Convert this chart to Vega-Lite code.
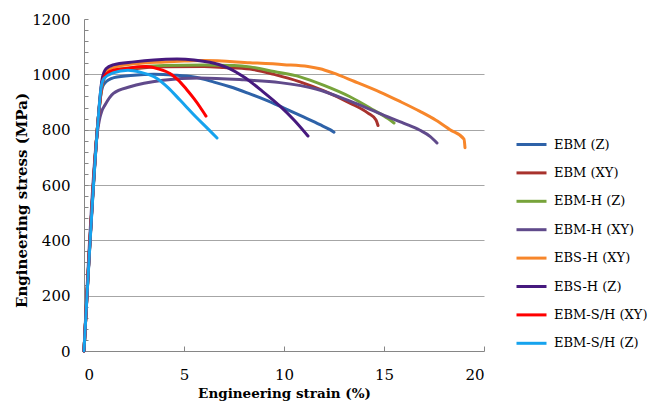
{
  "$schema": "https://vega.github.io/schema/vega-lite/v6.json",
  "autosize": "none",
  "width": 400,
  "height": 332,
  "padding": {"left": 84, "top": 19, "right": 167, "bottom": 55},
  "background": "white",
  "config": {"view": {"stroke": null}, "font": "DejaVu Serif"},
  "data": {"values": [
    {"s":"EBM (Z)","x":0,"y":0},{"s":"EBM (Z)","x":0.7,"y":830},{"s":"EBM (Z)","x":0.85,"y":930},{"s":"EBM (Z)","x":1.0,"y":965},{"s":"EBM (Z)","x":1.5,"y":988},{"s":"EBM (Z)","x":2.5,"y":997},{"s":"EBM (Z)","x":3.5,"y":1000},{"s":"EBM (Z)","x":4.5,"y":997},{"s":"EBM (Z)","x":5.5,"y":990},{"s":"EBM (Z)","x":6.5,"y":972},{"s":"EBM (Z)","x":7.3,"y":955},{"s":"EBM (Z)","x":8.2,"y":932},{"s":"EBM (Z)","x":9.1,"y":907},{"s":"EBM (Z)","x":10.0,"y":878},{"s":"EBM (Z)","x":11.0,"y":845},{"s":"EBM (Z)","x":11.8,"y":818},{"s":"EBM (Z)","x":12.3,"y":800},{"s":"EBM (Z)","x":12.5,"y":791},
    {"s":"EBM (XY)","x":0,"y":0},{"s":"EBM (XY)","x":0.7,"y":830},{"s":"EBM (XY)","x":0.9,"y":960},{"s":"EBM (XY)","x":1.1,"y":995},{"s":"EBM (XY)","x":1.5,"y":1010},{"s":"EBM (XY)","x":2.5,"y":1020},{"s":"EBM (XY)","x":4,"y":1027},{"s":"EBM (XY)","x":6,"y":1028},{"s":"EBM (XY)","x":7,"y":1025},{"s":"EBM (XY)","x":8.3,"y":1019},{"s":"EBM (XY)","x":9.5,"y":1000},{"s":"EBM (XY)","x":10.8,"y":973},{"s":"EBM (XY)","x":12,"y":940},{"s":"EBM (XY)","x":13.3,"y":896},{"s":"EBM (XY)","x":14.2,"y":860},{"s":"EBM (XY)","x":14.6,"y":835},{"s":"EBM (XY)","x":14.7,"y":815},
    {"s":"EBM-H (Z)","x":0,"y":0},{"s":"EBM-H (Z)","x":0.7,"y":830},{"s":"EBM-H (Z)","x":0.9,"y":960},{"s":"EBM-H (Z)","x":1.1,"y":1000},{"s":"EBM-H (Z)","x":1.5,"y":1015},{"s":"EBM-H (Z)","x":2.5,"y":1025},{"s":"EBM-H (Z)","x":4,"y":1032},{"s":"EBM-H (Z)","x":6,"y":1034},{"s":"EBM-H (Z)","x":7.5,"y":1032},{"s":"EBM-H (Z)","x":8.3,"y":1027},{"s":"EBM-H (Z)","x":9.5,"y":1010},{"s":"EBM-H (Z)","x":10.8,"y":991},{"s":"EBM-H (Z)","x":12,"y":960},{"s":"EBM-H (Z)","x":13.3,"y":919},{"s":"EBM-H (Z)","x":14.5,"y":870},{"s":"EBM-H (Z)","x":15.2,"y":840},{"s":"EBM-H (Z)","x":15.5,"y":824},
    {"s":"EBM-H (XY)","x":0,"y":0},{"s":"EBM-H (XY)","x":0.65,"y":780},{"s":"EBM-H (XY)","x":0.8,"y":845},{"s":"EBM-H (XY)","x":0.88,"y":865},{"s":"EBM-H (XY)","x":1.05,"y":889},{"s":"EBM-H (XY)","x":1.47,"y":931},{"s":"EBM-H (XY)","x":2.3,"y":955},{"s":"EBM-H (XY)","x":3.0,"y":968},{"s":"EBM-H (XY)","x":3.95,"y":979},{"s":"EBM-H (XY)","x":5.8,"y":987},{"s":"EBM-H (XY)","x":8,"y":980},{"s":"EBM-H (XY)","x":9.8,"y":970},{"s":"EBM-H (XY)","x":11.6,"y":947},{"s":"EBM-H (XY)","x":13.3,"y":903},{"s":"EBM-H (XY)","x":15,"y":852},{"s":"EBM-H (XY)","x":16,"y":823},{"s":"EBM-H (XY)","x":16.8,"y":798},{"s":"EBM-H (XY)","x":17.3,"y":776},{"s":"EBM-H (XY)","x":17.65,"y":752},
    {"s":"EBS-H (XY)","x":0,"y":0},{"s":"EBS-H (XY)","x":0.7,"y":830},{"s":"EBS-H (XY)","x":0.9,"y":970},{"s":"EBS-H (XY)","x":1.1,"y":1010},{"s":"EBS-H (XY)","x":1.5,"y":1025},{"s":"EBS-H (XY)","x":2.5,"y":1038},{"s":"EBS-H (XY)","x":4,"y":1045},{"s":"EBS-H (XY)","x":5,"y":1048},{"s":"EBS-H (XY)","x":6,"y":1050},{"s":"EBS-H (XY)","x":8.3,"y":1042},{"s":"EBS-H (XY)","x":10,"y":1035},{"s":"EBS-H (XY)","x":11.2,"y":1028},{"s":"EBS-H (XY)","x":11.8,"y":1020},{"s":"EBS-H (XY)","x":12.45,"y":1005},{"s":"EBS-H (XY)","x":13.5,"y":975},{"s":"EBS-H (XY)","x":14.8,"y":936},{"s":"EBS-H (XY)","x":15.8,"y":902},{"s":"EBS-H (XY)","x":16.8,"y":866},{"s":"EBS-H (XY)","x":17.6,"y":834},{"s":"EBS-H (XY)","x":18.3,"y":800},{"s":"EBS-H (XY)","x":19.0,"y":766},{"s":"EBS-H (XY)","x":19.05,"y":735},
    {"s":"EBS-H (Z)","x":0,"y":0},{"s":"EBS-H (Z)","x":0.7,"y":830},{"s":"EBS-H (Z)","x":0.9,"y":980},{"s":"EBS-H (Z)","x":1.1,"y":1020},{"s":"EBS-H (Z)","x":1.45,"y":1034},{"s":"EBS-H (Z)","x":2.5,"y":1045},{"s":"EBS-H (Z)","x":3.5,"y":1052},{"s":"EBS-H (Z)","x":4.65,"y":1055},{"s":"EBS-H (Z)","x":5.5,"y":1052},{"s":"EBS-H (Z)","x":6.5,"y":1040},{"s":"EBS-H (Z)","x":7.3,"y":1020},{"s":"EBS-H (Z)","x":8.0,"y":990},{"s":"EBS-H (Z)","x":8.9,"y":940},{"s":"EBS-H (Z)","x":9.8,"y":885},{"s":"EBS-H (Z)","x":10.5,"y":835},{"s":"EBS-H (Z)","x":11.2,"y":777},
    {"s":"EBM-S/H (XY)","x":0,"y":0},{"s":"EBM-S/H (XY)","x":0.7,"y":830},{"s":"EBM-S/H (XY)","x":0.9,"y":965},{"s":"EBM-S/H (XY)","x":1.1,"y":1000},{"s":"EBM-S/H (XY)","x":1.5,"y":1015},{"s":"EBM-S/H (XY)","x":2.3,"y":1023},{"s":"EBM-S/H (XY)","x":3.1,"y":1028},{"s":"EBM-S/H (XY)","x":3.7,"y":1020},{"s":"EBM-S/H (XY)","x":4.3,"y":1003},{"s":"EBM-S/H (XY)","x":4.7,"y":980},{"s":"EBM-S/H (XY)","x":5.1,"y":948},{"s":"EBM-S/H (XY)","x":5.5,"y":912},{"s":"EBM-S/H (XY)","x":5.8,"y":882},{"s":"EBM-S/H (XY)","x":6.1,"y":849},
    {"s":"EBM-S/H (Z)","x":0,"y":0},{"s":"EBM-S/H (Z)","x":0.7,"y":830},{"s":"EBM-S/H (Z)","x":0.85,"y":950},{"s":"EBM-S/H (Z)","x":1.0,"y":985},{"s":"EBM-S/H (Z)","x":1.45,"y":1005},{"s":"EBM-S/H (Z)","x":2.2,"y":1015},{"s":"EBM-S/H (Z)","x":2.8,"y":1008},{"s":"EBM-S/H (Z)","x":3.65,"y":985},{"s":"EBM-S/H (Z)","x":4.2,"y":952},{"s":"EBM-S/H (Z)","x":4.8,"y":907},{"s":"EBM-S/H (Z)","x":5.6,"y":846},{"s":"EBM-S/H (Z)","x":6.2,"y":803},{"s":"EBM-S/H (Z)","x":6.65,"y":770}
  ]},
  "mark": {"type": "line", "strokeWidth": 3, "strokeCap": "round", "strokeJoin": "round", "interpolate": "monotone"},
  "encoding": {
    "x": {"field": "x", "type": "quantitative",
      "scale": {"domain": [0, 20], "nice": false, "zero": true},
      "axis": {"title": "Engineering strain (%)", "values": [0, 5, 10, 15, 20], "grid": false, "format": "d",
        "domainColor": "#868686", "domainWidth": 1, "tickColor": "#868686", "tickSize": -5,
        "labelFontSize": 15, "labelColor": "#000", "labelPadding": 21, "labelFont": "DejaVu Serif",
        "titleFontSize": 13.5, "titleFontWeight": "bold", "titleColor": "#000", "titlePadding": 4}},
    "y": {"field": "y", "type": "quantitative",
      "scale": {"domain": [0, 1200], "nice": false},
      "axis": {"title": "Engineering stress (MPa)", "format": "d", "titleY": 181,
        "values": [0,40,80,120,160,200,240,280,320,360,400,440,480,520,560,600,640,680,720,760,800,840,880,920,960,1000,1040,1080,1120,1160,1200],
        "labelExpr": "datum.value % 200 === 0 ? datum.label : ''",
        "grid": true, "gridColor": "#A6A6A6", "gridWidth": 1.2,
        "gridOpacity": {"condition": {"test": "datum.value % 200 !== 0 || datum.value === 0 || datum.value === 1200", "value": 0}, "value": 1},
        "domainColor": "#868686", "domainWidth": 1, "tickColor": "#868686", "tickSize": -4,
        "labelFontSize": 15, "labelColor": "#000", "labelPadding": 18, "labelFont": "DejaVu Serif",
        "titleFontSize": 15, "titleFontWeight": "bold", "titleColor": "#000", "titlePadding": 2}},
    "color": {"field": "s", "type": "nominal",
      "scale": {"domain": ["EBM (Z)", "EBM (XY)", "EBM-H (Z)", "EBM-H (XY)", "EBS-H (XY)", "EBS-H (Z)", "EBM-S/H (XY)", "EBM-S/H (Z)"],
        "range": ["#2E62A8", "#A8322D", "#77A33A", "#604A8B", "#F7862A", "#46197E", "#FF0000", "#16A3EE"]},
      "legend": {"title": null, "orient": "none", "legendX": 431, "legendY": 109,
        "symbolType": "stroke", "symbolSize": 900, "symbolStrokeWidth": 3,
        "labelFontSize": 13, "labelColor": "#000", "labelFont": "DejaVu Serif", "labelOffset": 6, "rowPadding": 4.4}}
  }
}
